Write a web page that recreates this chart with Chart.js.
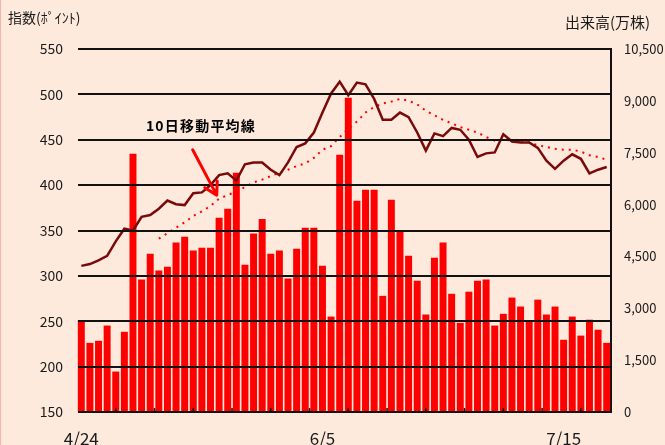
<!DOCTYPE html>
<html>
<head>
<meta charset="utf-8">
<script src="https://cdn.jsdelivr.net/npm/chart.js@4.4.1/dist/chart.umd.min.js"></script>
<style>
  html, body { margin: 0; padding: 0; background: #FDEADC; }
  #wrap { position: relative; width: 665px; height: 445px; overflow: hidden; }
  #edge { position: absolute; left: 0; top: 0; width: 1px; height: 445px; background: #F6B3AC; }
  canvas { display: block; }
</style>
</head>
<body>
<div id="wrap">
  <canvas id="c" width="665" height="445"></canvas>
  <div id="edge"></div>
</div>
<script>
// ---- Data ----
const dateLabels = [
  '4/24','','','','','','','','','','','','','','','','','','','','',
  '','','','','','','','6/5','','','','','','','','','','','','','',
  '','','','','','','','','','','','','','','7/15','','','','',''
];
// Stock index (points) – left axis
const indexValues = [
  311, 313, 317, 322, 338, 352, 350, 365, 367, 374,
  383, 379, 378, 391, 392, 400, 411, 413, 405, 423,
  425, 425, 417, 411, 425, 442, 446, 458, 480, 501,
  514, 499, 513, 511, 495, 472, 472, 480, 475, 458,
  438, 457, 454, 463, 461, 450, 431, 435, 436, 456,
  448, 447, 447, 441, 427, 418, 427, 434, 429, 413,
  417, 420
];
// 10-day moving average (dotted) – left axis
const movingAvg10 = [
  null, null, null, null, null, null, null, null, null, 341,
  347, 353, 359, 366, 371, 377, 385, 389, 393, 398,
  403, 406, 410, 414, 417, 421, 424, 430, 439, 443,
  453, 462, 470, 480, 486, 490, 492, 495, 493, 489,
  482, 477, 472, 468, 464, 461, 458, 453, 449, 450,
  449, 449, 447, 444, 442, 440, 439, 439, 437, 433,
  431, 428
];
// Trading volume (10k shares) – right axis
const volumeValues = [
  2660, 2000, 2060, 2500, 1170, 2320, 7470, 3830, 4580, 4090,
  4200, 4900, 5070, 4670, 4750, 4750, 5620, 5880, 6920, 4260,
  5160, 5580, 4580, 4670, 3860, 4720, 5330, 5330, 4230, 2760,
  7440, 9090, 6110, 6430, 6430, 3360, 6140, 5250, 4520, 3800,
  2820, 4460, 4900, 3420, 2580, 3480, 3800, 3830, 2500, 2840,
  3310, 3050, 2640, 3250, 2820, 3050, 2090, 2760, 2210, 2670,
  2380, 2000
];
const leftTitle = '指数(ﾎﾟｲﾝﾄ)';
const rightTitle = '出来高(万株)';
const annotationText = '10日移動平均線';

const FONT = "'Noto Sans CJK JP', 'Noto Sans', sans-serif";

const decorPlugin = {
  id: 'decor',
  afterDraw(chart) {
    const ctx = chart.ctx;
    const xs = chart.scales.x, ys = chart.scales.y;
    ctx.save();
    // axis titles
    ctx.fillStyle = '#1a1a1a';
    ctx.textBaseline = 'middle';
    ctx.textAlign = 'left';
    ctx.font = '14px ' + FONT;
    ctx.fillText(leftTitle, 8, 18);
    ctx.font = '15px ' + FONT;
    ctx.fillText(rightTitle, 565, 22);

    // small tick marks on bottom axis
    ctx.strokeStyle = '#111';
    ctx.lineWidth = 1.5;
    for (let k = 1; k * 4.5 < dateLabels.length; k++) {
      const px = xs.getPixelForValue(k * 4.5 - 0.5);
      ctx.beginPath();
      ctx.moveTo(px, xs.top);
      ctx.lineTo(px, xs.top - 4);
      ctx.stroke();
    }

    // annotation text
    ctx.fillStyle = '#000';
    ctx.font = 'bold 14px ' + FONT;
    let tx = xs.getPixelForValue(7.5);
    const ty = ys.getPixelForValue(466);
    for (const ch of annotationText) {
      ctx.fillText(ch, tx, ty);
      tx += ctx.measureText(ch).width + 1.2;
    }

    // arrow
    const x1 = xs.getPixelForValue(12.93), y1 = ys.getPixelForValue(439);
    const x2 = xs.getPixelForValue(15.72), y2 = ys.getPixelForValue(389);
    ctx.strokeStyle = '#FF0000';
    ctx.lineWidth = 3;
    ctx.lineCap = 'round';
    ctx.beginPath();
    ctx.moveTo(x1, y1);
    ctx.lineTo(x2, y2);
    const ang = Math.atan2(y2 - y1, x2 - x1);
    const L = 14, spread = Math.PI / 6;
    ctx.moveTo(x2, y2);
    ctx.lineTo(x2 - L * Math.cos(ang - spread), y2 - L * Math.sin(ang - spread));
    ctx.moveTo(x2, y2);
    ctx.lineTo(x2 - L * Math.cos(ang + spread), y2 - L * Math.sin(ang + spread));
    ctx.stroke();
    ctx.restore();
  }
};

new Chart(document.getElementById('c'), {
  data: {
    labels: dateLabels,
    datasets: [
      {
        type: 'line',
        label: '指数',
        data: indexValues,
        yAxisID: 'y',
        borderColor: '#7A0A0A',
        borderWidth: 2.5,
        pointRadius: 0,
        tension: 0,
        order: 0
      },
      {
        type: 'line',
        label: '10日移動平均線',
        data: movingAvg10,
        yAxisID: 'y',
        borderColor: '#FF0000',
        borderWidth: 2,
        borderDash: [2, 5],
        pointRadius: 0,
        tension: 0,
        spanGaps: false,
        order: 1
      },
      {
        type: 'bar',
        label: '出来高',
        data: volumeValues,
        yAxisID: 'y1',
        backgroundColor: '#FF0000',
        borderWidth: 0,
        barPercentage: 0.81,
        categoryPercentage: 1.0,
        order: 2
      }
    ]
  },
  options: {
    responsive: false,
    animation: false,
    devicePixelRatio: 1,
    layout: { padding: { top: 49, left: 0, right: 0, bottom: 0 } },
    plugins: { legend: { display: false }, tooltip: { enabled: false }, title: { display: false } },
    scales: {
      x: {
        type: 'category',
        offset: true,
        grid: { display: false, drawTicks: false },
        border: { display: false },
        ticks: {
          autoSkip: false, maxRotation: 0, minRotation: 0,
          color: '#1a1a1a', padding: 16,
          font: { family: FONT, size: 17 }
        },
        afterFit(s) { s.height = 33; }
      },
      y: {
        position: 'left',
        min: 150, max: 550,
        ticks: { stepSize: 50, color: '#1a1a1a', padding: 14, font: { family: FONT, size: 14 } },
        grid: { color: '#111', lineWidth: 2, drawTicks: false, z: 1 },
        border: { display: true, color: '#111', width: 2 },
        afterFit(s) { s.width = 77; }
      },
      y1: {
        position: 'right',
        min: 0, max: 10500,
        ticks: {
          stepSize: 1500, color: '#1a1a1a', padding: 13, font: { family: FONT, size: 13 },
          callback: v => v.toLocaleString('en-US')
        },
        grid: { display: false, drawTicks: false },
        border: { display: true, color: '#111', width: 2 },
        afterFit(s) { s.width = 54; }
      }
    }
  },
  plugins: [decorPlugin]
});
</script>
</body>
</html>
